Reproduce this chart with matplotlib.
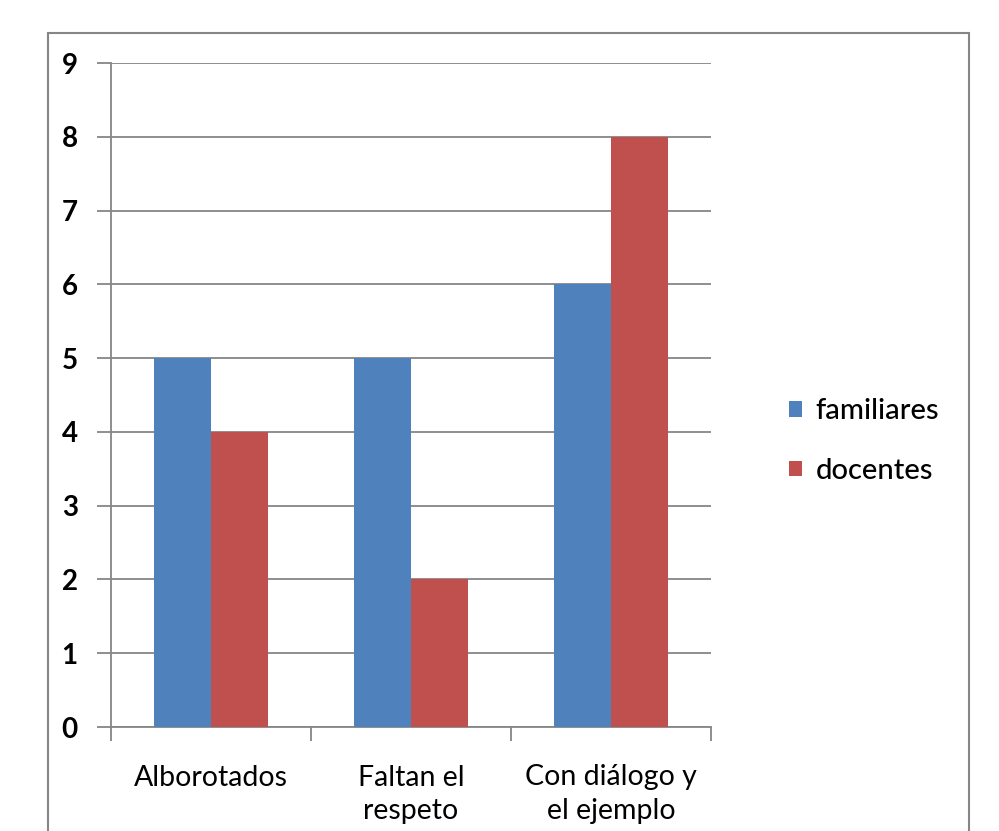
import matplotlib
matplotlib.use("Agg")
import matplotlib.pyplot as plt
from matplotlib.patches import Rectangle
import numpy as np

categories = ["Alborotados", "Faltan el\nrespeto", "Con diálogo y\nel ejemplo"]
familiares = [5, 5, 6]
docentes = [4, 2, 8]
series_names = ["familiares", "docentes"]
colors = ["#4F81BD", "#C0504D"]

plt.rcParams['font.family'] = ['Lato', 'DejaVu Sans']

W, H = 999, 831
fig = plt.figure(figsize=(W / 100, H / 100), dpi=100)
ax = fig.add_axes([111 / W, (H - 727) / H, 600 / W, 664 / H])

x = np.arange(len(categories))
bw = 0.285
ax.bar(x - bw / 2, familiares, bw, color=colors[0], label=series_names[0], zorder=3)
ax.bar(x + bw / 2, docentes, bw, color=colors[1], label=series_names[1], zorder=3)

ax.set_xlim(-0.5, len(categories) - 0.5)
ax.set_ylim(0, 9)
ax.set_yticks(range(0, 10))
ax.yaxis.grid(True, color="#868686", linewidth=1.3, zorder=0)
ax.set_axisbelow(True)

for s in ["top", "right"]:
    ax.spines[s].set_visible(False)
for s in ["left", "bottom"]:
    ax.spines[s].set_color("#868686")
    ax.spines[s].set_linewidth(1.3)

ax.set_xticks(x)
ax.set_xticklabels(categories, fontsize=20.5, linespacing=1.35)
ax.tick_params(axis="x", length=0, pad=27)
ax.set_xticks(np.arange(-0.5, len(categories), 1.0), minor=True)
ax.tick_params(axis="x", which="minor", length=10, width=1.3, color="#868686", direction="out")
ax.tick_params(axis="y", length=10, width=1.3, color="#868686", pad=14)
for lbl in ax.get_yticklabels():
    lbl.set_fontsize(20)
    lbl.set_fontweight("bold")

ax.legend(loc="center left", bbox_to_anchor=(678 / 600, (727 - 441) / 664),
          frameon=False, fontsize=21, handlelength=0.45, handleheight=0.45,
          handletextpad=0.45, labelspacing=1.15, borderaxespad=0, borderpad=0,
          prop={'weight': 'medium', 'size': 21})

fig.patches.append(Rectangle((48 / W, -0.05), (969 - 48) / W, (H - 33) / H + 0.05,
                             transform=fig.transFigure, fill=False,
                             edgecolor="#868686", linewidth=1.5))

fig.savefig("out.png", dpi=100)
